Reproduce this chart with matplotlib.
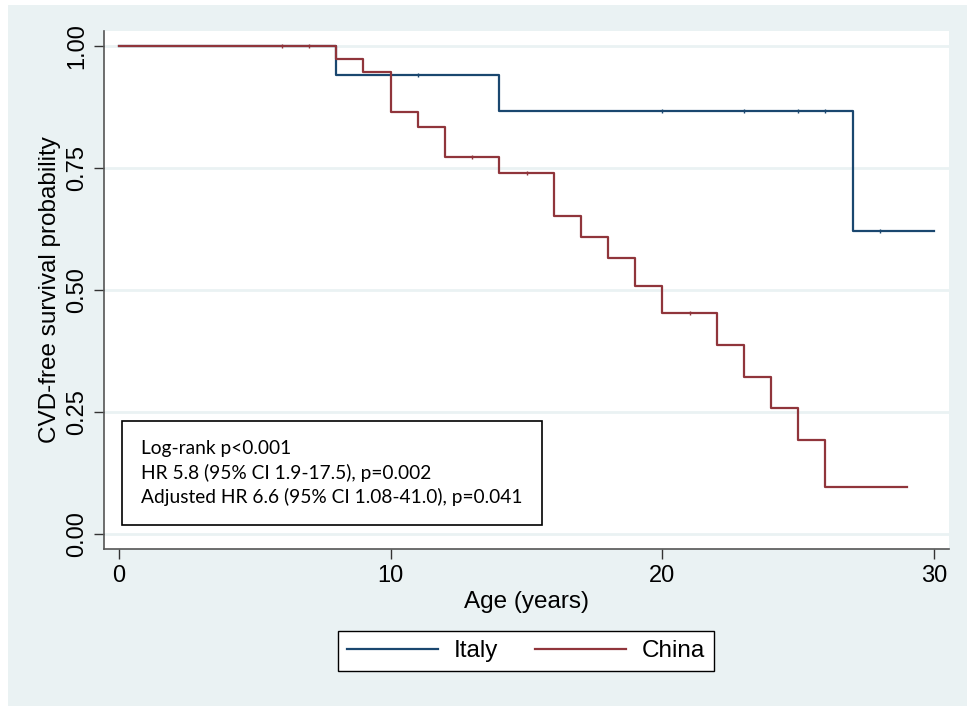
import matplotlib.pyplot as plt
from matplotlib.patches import Rectangle

# Kaplan-Meier estimates (age in years)
italy_t = [0, 8, 14, 27, 30]
italy_s = [1.0, 0.941, 0.867, 0.620, 0.620]
italy_cens = [11, 20, 23, 25, 26, 28]

china_t = [0, 8, 9, 10, 11, 12, 14, 16, 17, 18, 19, 20, 22, 23, 24, 25, 26, 29]
china_s = [1.0, 0.974, 0.947, 0.864, 0.835, 0.772, 0.739, 0.652, 0.609,
           0.566, 0.509, 0.452, 0.387, 0.322, 0.258, 0.193, 0.097, 0.097]
china_cens = [6, 7, 13, 15, 21]

y_ticks = [0.0, 0.25, 0.5, 0.75, 1.0]
x_ticks = [0, 10, 20, 30]

stats_text = ("Log-rank p<0.001\n"
              "HR 5.8 (95% CI 1.9-17.5), p=0.002\n"
              "Adjusted HR 6.6 (95% CI 1.08-41.0), p=0.041")

navy = '#1a476f'
maroon = '#90353b'
bg = '#eaf2f3'

plt.rcParams['font.family'] = ['Liberation Sans', 'DejaVu Sans']

fig = plt.figure(figsize=(9.67, 7.06), dpi=100, facecolor='white')
fig.patches.append(Rectangle((8 / 967, 0), 1, 701 / 706, transform=fig.transFigure,
                             facecolor=bg, edgecolor='none', zorder=-10))

ax = fig.add_axes([104 / 967, 1 - 549 / 706, 845 / 967, 518 / 706])
ax.set_facecolor('white')


def surv_at(ts, ss, x):
    val = ss[0]
    for t, s in zip(ts, ss):
        if t <= x:
            val = s
    return val


ax.step(italy_t, italy_s, where='post', color=navy, lw=1.6, label='Italy', zorder=3)
ax.plot(italy_cens, [surv_at(italy_t, italy_s, c) for c in italy_cens], ls='none',
        marker='|', ms=3.5, mew=1, color=navy, zorder=3)
ax.step(china_t, china_s, where='post', color=maroon, lw=1.6, label='China', zorder=4)
ax.plot(china_cens, [surv_at(china_t, china_s, c) for c in china_cens], ls='none',
        marker='|', ms=3.5, mew=1, color=maroon, zorder=4)

ax.set_xlim(-0.552, 30.552)
ax.set_ylim(-0.0307, 1.0307)
ax.set_xticks(x_ticks)
ax.set_yticks(y_ticks)
ax.set_yticklabels([f'{v:.2f}' for v in y_ticks], rotation=90, va='center')
ax.tick_params(axis='both', direction='out', length=7.2, width=1, color='#333333',
               labelsize=17, pad=4)
ax.grid(axis='y', color=bg, lw=2)
ax.set_axisbelow(True)
for side in ['top', 'right']:
    ax.spines[side].set_visible(False)
for side in ['left', 'bottom']:
    ax.spines[side].set_color('#555555')
    ax.spines[side].set_linewidth(1.2)

ax.set_xlabel('Age (years)', fontsize=17.5, labelpad=3)
ax.set_ylabel('CVD-free survival probability', fontsize=17.5, labelpad=4)

ax.text(0.81, 0.125, stats_text, fontsize=13.8, family='Lato', linespacing=1.4,
        va='center', ha='left', zorder=5,
        bbox=dict(boxstyle='square,pad=1.0', facecolor='white', edgecolor='black', lw=1.2))

leg = fig.legend(loc='center', bbox_to_anchor=(526 / 967, 1 - 651 / 706), ncol=2,
                 fontsize=17.5, frameon=True, fancybox=False, edgecolor='black',
                 framealpha=1, facecolor='white',
                 handlelength=3.75, columnspacing=1.5, handletextpad=0.66,
                 borderpad=0.35)
leg.get_frame().set_linewidth(1)

fig.savefig('out.png', dpi=100)
